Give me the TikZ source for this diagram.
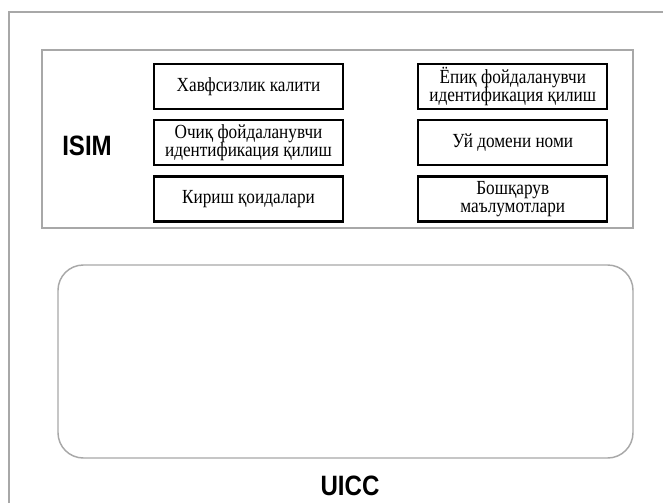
\documentclass[tikz,border=0pt]{standalone}
\usepackage{fontspec}
\setmainfont{Liberation Serif}[FakeStretch=0.86]
\newfontfamily\labelsans{Liberation Sans}[FakeStretch=0.86]
\usetikzlibrary{positioning}
\definecolor{framegray}{HTML}{A8A8A8}

\begin{document}
\begin{tikzpicture}[
  x=0.75pt, y=-0.75pt,
  font=\fontsize{15}{13.8}\selectfont,
  frame/.style={draw=framegray,line width=1.1pt},
  item/.style={draw,line width=1.7pt,align=center,inner sep=0.5pt,
    minimum width=141.75pt,minimum height=33.75pt},
  tag/.style={font=\labelsans\bfseries\fontsize{21}{21}\selectfont}
]
\useasboundingbox (0,0) rectangle (663,503);
\draw[frame] (9,503) -- (9,12) -- (663,12);
\draw[frame] (42,50) rectangle (633,228);
\draw[frame,rounded corners=19pt] (58,265) rectangle (633,458);

\node[tag] (isim) at (87,146) {ISIM};
\node[tag] (uicc) at (350,486) {UICC};

\node[item] (key) at (248.5,86.5) {Хавфсизлик калити};
\node[item,below=6.75pt of key] (pubid) {Очиқ фойдаланувчи\\идентификация қилиш};
\node[item,below=6.75pt of pubid] (rules) {Кириш қоидалари};
\node[item,right=54.75pt of key] (privid) {Ёпиқ фойдаланувчи\\идентификация қилиш};
\node[item,below=6.75pt of privid] (domain) {Уй домени номи};
\node[item,below=6.75pt of domain] (admin) {Бошқарув\\маълумотлари};
\end{tikzpicture}
\end{document}
